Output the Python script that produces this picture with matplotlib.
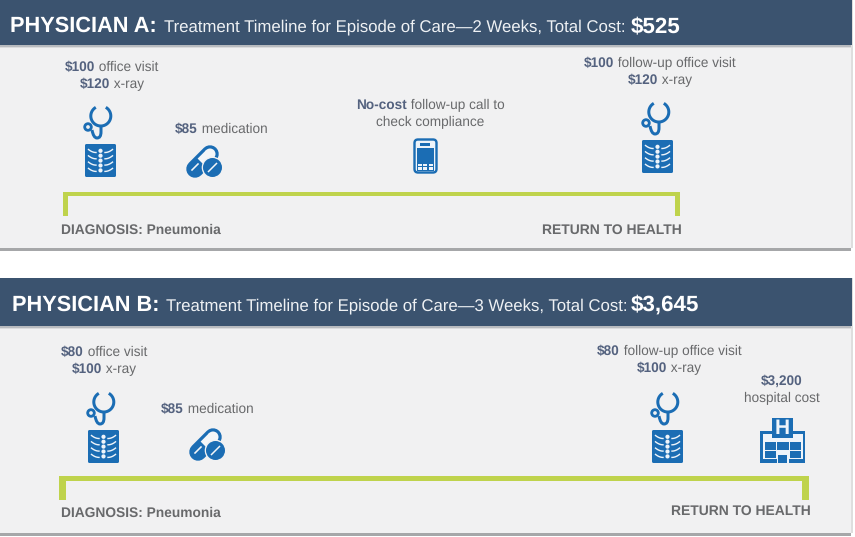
import numpy as np
import matplotlib
matplotlib.use("Agg")
import matplotlib.pyplot as plt
from matplotlib.patches import Rectangle, FancyBboxPatch, Circle, PathPatch
from matplotlib.path import Path

plt.rcParams['font.family'] = ['Liberation Sans', 'DejaVu Sans']
plt.rcParams['text.hinting'] = 'no_hinting'

# -------------------------------
# DATA
# -------------------------------
physicians = ["PHYSICIAN A:", "PHYSICIAN B:"]
durations = ["2 Weeks", "3 Weeks"]
total_costs = ["$525", "$3,645"]
diagnosis_label = "DIAGNOSIS: Pneumonia"
return_label = "RETURN TO HEALTH"

# each line is (bold part, regular part)
a_first_visit = [("$100", " office visit"), ("$120", " x-ray")]
a_medication = [("$85", " medication")]
a_call = [("No-cost", " follow-up call to"), ("", "check compliance")]
a_second_visit = [("$100", " follow-up office visit"), ("$120", " x-ray")]

b_first_visit = [("$80", " office visit"), ("$100", " x-ray")]
b_medication = [("$85", " medication")]
b_second_visit = [("$80", " follow-up office visit"), ("$100", " x-ray")]
b_hospital = [("$3,200", ""), ("", "hospital cost")]

# -------------------------------
# COLOURS
# -------------------------------
HEADER = "#3b536f"
PANEL = "#f1f1f2"
BLUE = "#1b6db4"
LIGHT = "#eef4fa"
GREEN = "#bfd34c"
COST = "#54627f"
GREY = "#68696b"

fig = plt.figure(figsize=(8.55, 5.37), dpi=100, facecolor="white")
ax = fig.add_axes([0, 0, 1, 1])
ax.set_xlim(0, 855)
ax.set_ylim(537, 0)
ax.axis("off")
renderer = fig.canvas.get_renderer()


def px(w):
    return w * 72 / 100


def rect(x0, y0, x1, y1, color, z=1):
    ax.add_patch(Rectangle((x0, y0), x1 - x0, y1 - y0, fc=color, ec="none", zorder=z))


def rich_line(parts, x, y, ha="left"):
    """Draw (text, weight, color, size) parts side by side. Returns the right edge."""
    widths = []
    for s, w, c, fs in parts:
        # spaces at the ends are not measured, so measure with a guard
        g = ax.text(0, 0, "|" + s + "|", fontsize=fs, fontweight=w)
        h = ax.text(0, 0, "||", fontsize=fs, fontweight=w)
        widths.append(g.get_window_extent(renderer).width - h.get_window_extent(renderer).width)
        g.remove(); h.remove()
    total = sum(widths)
    cur = x - total / 2 if ha == "center" else x
    for (s, w, c, fs), wd in zip(parts, widths):
        ax.text(cur, y, s, fontsize=fs, fontweight=w, color=c, va="center_baseline",
                ha="left", zorder=6)
        cur += wd
    return cur


def note(lines, cx, y, step=17.3):
    for i, (bold, regular) in enumerate(lines):
        parts = []
        if bold:
            parts.append((bold, "bold", COST, 9.8))
        if regular:
            parts.append((regular, "normal", GREY, 9.8))
        rich_line(parts, cx, y + i * step, ha="center")


def stethoscope(x, y):
    t = np.radians(np.linspace(-60, 240, 60))
    ax.plot(x + 17.8 + 10 * np.cos(t), y + 11 + 10 * np.sin(t), color=BLUE, lw=px(3),
            solid_capstyle="butt", zorder=3)
    verts = [(x + 18, y + 20), (x + 18, y + 27), (x + 18, y + 33), (x + 14, y + 33),
             (x + 10.5, y + 33), (x + 9, y + 25)]
    codes = [Path.MOVETO, Path.LINETO, Path.CURVE3, Path.CURVE3, Path.CURVE3, Path.CURVE3]
    ax.add_patch(PathPatch(Path(verts, codes), fc="none", ec=BLUE, lw=px(3), zorder=3))
    ax.add_patch(Circle((x + 5, y + 22), 3.3, fc=PANEL, ec=BLUE, lw=px(2.8), zorder=4))


def xray(x, y):
    ax.add_patch(FancyBboxPatch((x + 1, y + 1), 29, 31, boxstyle="round,pad=1,rounding_size=1.5",
                                fc=BLUE, ec="none", zorder=3))
    for i in range(5):
        ax.add_patch(Circle((x + 15.5, y + 6.8 + i * 4.9), 2.1, fc=LIGHT, ec="none", zorder=4))
    s = np.linspace(0, 1, 12)
    for i in range(4):
        yy = y + 5.5 + i * 6.3
        ax.plot(x + 3.5 + 7.5 * s, yy + 3 * (1 - (1 - s) ** 2), color=LIGHT, lw=px(1.4), zorder=4)
        ax.plot(x + 27.5 - 7.5 * s, yy + 3 * (1 - (1 - s) ** 2), color=LIGHT, lw=px(1.4), zorder=4)


def pills(x, y):
    # capsule, solid lower half and open upper half
    ax.plot([x + 9, x + 24], [y + 23, y + 8], color=BLUE, lw=px(17.5), solid_capstyle="round", zorder=3)
    ax.plot([x + 15.5, x + 24], [y + 16.5, y + 8], color="#f4f6f8", lw=px(11), solid_capstyle="butt", zorder=3.1)
    ax.add_patch(Circle((x + 24, y + 8), 5.5, fc="#f4f6f8", ec="none", zorder=3.1))
    ax.plot([x + 6, x + 12], [y + 24, y + 18], color="#f4f6f8", lw=px(1.6), zorder=3.2)
    # round pill on top
    ax.add_patch(Circle((x + 26.5, y + 21.5), 10.8, fc=PANEL, ec="none", zorder=3.3))
    ax.add_patch(Circle((x + 26.5, y + 21.5), 9.5, fc=BLUE, ec="none", zorder=3.4))
    ax.plot([x + 22.5, x + 30.5], [y + 25.5, y + 17.5], color="#f4f6f8", lw=px(1.5), zorder=3.5)


def phone(x, y):
    ax.add_patch(FancyBboxPatch((x + 3.5, y + 3.5), 18, 29, boxstyle="round,pad=2,rounding_size=3.5",
                                fc=LIGHT, ec=BLUE, lw=px(2.4), zorder=3))
    rect(x + 7, y + 4.5, x + 17, y + 7.5, BLUE, 4)
    rect(x + 4, y + 9.5, x + 21, y + 24.5, BLUE, 4)
    rect(x + 4, y + 24.5, x + 21, y + 33, BLUE, 4)
    for row in range(2):
        for col in range(3):
            rect(x + 5 + col * 5.3, y + 25.5 + row * 3.7, x + 9 + col * 5.3, y + 28.2 + row * 3.7, LIGHT, 5)


def hospital(x, y):
    rect(x, y + 13, x + 45, y + 45, BLUE, 3)
    rect(x + 2.5, y + 15.5, x + 42.5, y + 41, LIGHT, 3.1)
    rect(x + 12, y, x + 33, y + 19.5, BLUE, 3.2)
    ax.text(x + 22.5, y + 10.5, "H", color=LIGHT, fontsize=15, fontweight="bold", ha="center",
            va="center", zorder=4)
    rect(x + 4.5, y + 24, x + 15.5, y + 31.5, BLUE, 3.3)
    rect(x + 16.5, y + 24, x + 28.5, y + 31.5, BLUE, 3.3)
    rect(x + 29.5, y + 24, x + 40.5, y + 31.5, BLUE, 3.3)
    rect(x + 4.5, y + 33, x + 15.5, y + 40, BLUE, 3.3)
    rect(x + 29.5, y + 33, x + 40.5, y + 40, BLUE, 3.3)
    rect(x + 16.5, y + 41, x + 28.5, y + 45, LIGHT, 3.35)
    rect(x + 18, y + 36.5, x + 27, y + 45, BLUE, 3.4)


def bracket(x0, x1, y0, y1, thick, stub):
    rect(x0, y0, x1, y0 + thick, GREEN, 2)
    rect(x0, y0, x0 + stub, y1, GREEN, 2)
    rect(x1 - stub, y0, x1, y1, GREEN, 2)


def card(top, head_bottom, panel_bottom, title_x, cy, name, duration, cost, cost_gap):
    rect(851, top, 853, panel_bottom, "#dedede", 0.9)
    rect(0, head_bottom, 851, panel_bottom, PANEL, 1.1)
    rect(0, head_bottom, 851, head_bottom + 1.5, "#b8bbbf", 1.3)
    rect(0, head_bottom + 1.5, 851, head_bottom + 3, "#dcdcdd", 1.3)
    rect(0, panel_bottom, 851, panel_bottom + 2.5, "#a6a7a9", 1.2)
    rect(0, top, 851.5, head_bottom, HEADER, 2)
    end = rich_line([(name, "bold", "white", 15.7)], title_x, cy)
    end = rich_line([("Treatment Timeline for Episode of Care\u2014" + duration + ", Total Cost: ",
                      "normal", "#eef1f4", 12.05)], end + 7, cy + 1)
    rich_line([(cost, "bold", "white", 16.1)], end + cost_gap, cy)


# -------------------------------
# PHYSICIAN A
# -------------------------------
card(0, 45, 248, 10, 24, physicians[0], durations[0], total_costs[0], 1)
note(a_first_visit, 112, 66)
note(a_medication, 221, 128)
note(a_call, 430, 104)
note(a_second_visit, 660, 62)
stethoscope(83, 105)
xray(85, 144)
pills(186, 146)
phone(413, 138)
stethoscope(641, 101)
xray(642, 140)
bracket(63, 680, 192, 216, 4, 5)
rich_line([(diagnosis_label, "bold", GREY, 9.9)], 61, 229)
ax.text(682, 229, return_label, fontsize=10, fontweight="bold", color=GREY, ha="right",
        va="center_baseline", zorder=6)

# -------------------------------
# PHYSICIAN B
# -------------------------------
card(278, 326, 533, 12, 303, physicians[1], durations[1], total_costs[1], -2)
note(b_first_visit, 104, 351)
note(b_medication, 207, 408)
note(b_second_visit, 669, 350)
note(b_hospital, 782, 380)
stethoscope(86, 391)
xray(88, 430)
pills(189, 429)
stethoscope(650, 391)
xray(652, 430)
hospital(760, 418)
bracket(59, 809, 476, 500, 5, 7)
rich_line([(diagnosis_label, "bold", GREY, 9.9)], 61, 512)
ax.text(811, 510, return_label, fontsize=10, fontweight="bold", color=GREY, ha="right",
        va="center_baseline", zorder=6)

fig.savefig("out.png", dpi=100, facecolor="white")
